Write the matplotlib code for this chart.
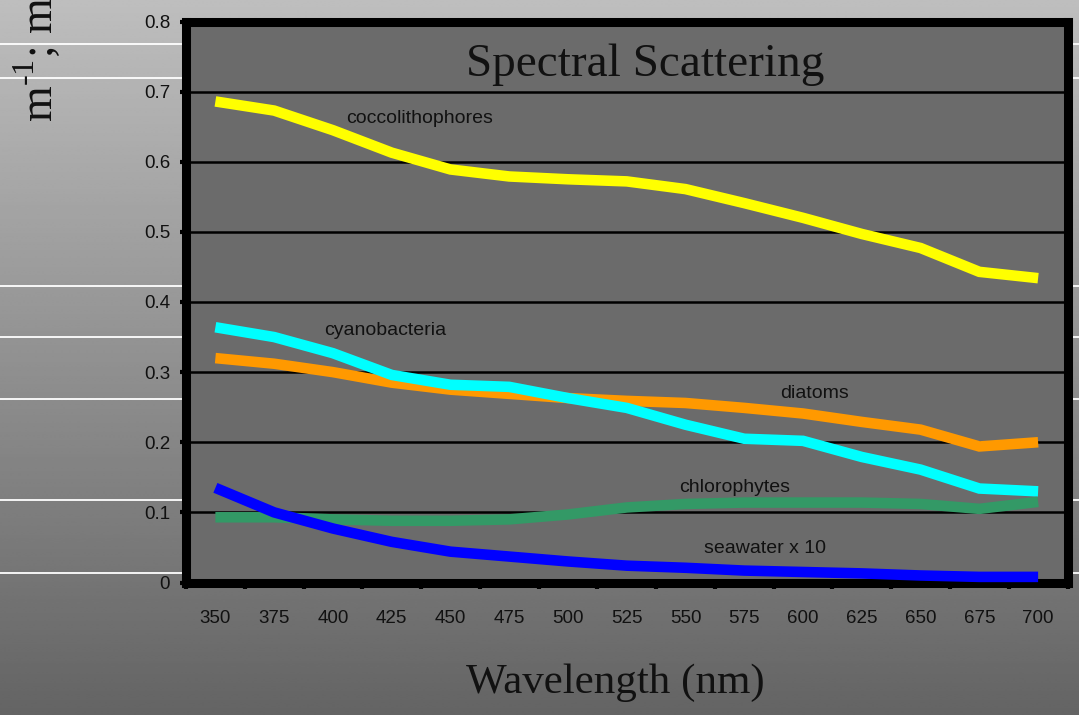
import numpy as np
import matplotlib
matplotlib.use("Agg")
import matplotlib.pyplot as plt
from matplotlib.lines import Line2D

# wavelengths (nm), shown as category labels
wavelengths = ["350", "375", "400", "425", "450", "475", "500", "525",
               "550", "575", "600", "625", "650", "675", "700"]

coccolithophores = [0.686, 0.673, 0.645, 0.613, 0.589, 0.579, 0.575, 0.572,
                    0.561, 0.541, 0.520, 0.497, 0.477, 0.443, 0.434]
diatoms = [0.320, 0.312, 0.300, 0.285, 0.275, 0.269, 0.263, 0.259,
           0.256, 0.249, 0.241, 0.229, 0.218, 0.194, 0.200]
cyanobacteria = [0.364, 0.350, 0.327, 0.296, 0.282, 0.279, 0.263, 0.249,
                 0.225, 0.205, 0.202, 0.179, 0.161, 0.134, 0.130]
chlorophytes = [0.093, 0.093, 0.090, 0.088, 0.088, 0.090, 0.097, 0.107,
                0.112, 0.114, 0.114, 0.114, 0.112, 0.105, 0.115]
seawater_x10 = [0.135, 0.100, 0.077, 0.058, 0.044, 0.037, 0.030, 0.024,
                0.021, 0.017, 0.015, 0.013, 0.010, 0.008, 0.008]

yticks = [0, 0.1, 0.2, 0.3, 0.4, 0.5, 0.6, 0.7, 0.8]
ytick_labels = ["0", "0.1", "0.2", "0.3", "0.4", "0.5", "0.6", "0.7", "0.8"]

W, H = 1079, 715
fig = plt.figure(figsize=(W / 100, H / 100), dpi=100)
plt.rcParams['mathtext.fontset'] = 'custom'
plt.rcParams['mathtext.rm'] = 'Liberation Serif'

# slide background: vertical gray gradient
bg = fig.add_axes([0, 0, 1, 1], zorder=-10)
grad = np.linspace(190, 100, 256)[:, None] / 255.0
bg.imshow(np.repeat(grad, 2, axis=1), cmap='gray', vmin=0, vmax=1,
          aspect='auto', extent=[0, 1, 0, 1], interpolation='bilinear')
bg.set_xlim(0, 1)
bg.set_ylim(0, 1)
bg.axis('off')

# thin white stripes of the slide template
for ypix in [44, 78, 286, 337, 399, 500, 573]:
    bg.add_line(Line2D([0, 1], [1 - ypix / H] * 2, color='white', lw=1.3))

ax = fig.add_axes([186 / W, 1 - 582.5 / H, 881.5 / W, 561 / H])
ax.set_facecolor('#6b6b6b')

x = np.arange(len(wavelengths))
lw = 7.6
kw = dict(lw=lw, solid_capstyle='butt', solid_joinstyle='miter', zorder=3)
ax.plot(x, coccolithophores, color='#ffff00', **kw)
ax.plot(x, diatoms, color='#ff9900', **kw)
ax.plot(x, cyanobacteria, color='#00ffff', **kw)
ax.plot(x, chlorophytes, color='#339966', **kw)
ax.plot(x, seawater_x10, color='#0000ff', **kw)

ax.set_xlim(-0.5, len(wavelengths) - 0.5)
ax.set_ylim(0, 0.8)
ax.set_yticks(yticks)
ax.set_yticklabels(ytick_labels)
ax.set_xticks(x)
ax.set_xticklabels(wavelengths)
ax.set_xticks(np.arange(len(wavelengths) + 1) - 0.5, minor=True)

ax.yaxis.grid(True, color='black', lw=1.8, zorder=1)
ax.set_axisbelow(True)

for s in ax.spines.values():
    s.set_linewidth(6.5)
    s.set_color('black')

ax.tick_params(axis='y', length=4.5, width=3, pad=7, color='black',
               labelsize=13.5, labelcolor='#111111')
ax.tick_params(axis='x', which='major', length=0, pad=20,
               labelsize=13.5, labelcolor='#111111')
ax.tick_params(axis='x', which='minor', length=4.5, width=3, color='black')
for lab in ax.get_xticklabels() + ax.get_yticklabels():
    lab.set_fontfamily('Liberation Sans')

# series labels
lab_kw = dict(family='Liberation Sans', size=14, color='#111111',
              ha='center', va='center', zorder=4)
ax.text(3.48, 0.661, "coccolithophores", **lab_kw)
ax.text(2.89, 0.359, "cyanobacteria", **lab_kw)
ax.text(10.19, 0.270, "diatoms", **lab_kw)
ax.text(8.83, 0.136, "chlorophytes", **lab_kw)
ax.text(9.35, 0.048, "seawater x 10", **lab_kw)

ax.text(0.521, 0.903, "Spectral Scattering", transform=ax.transAxes,
        family='Liberation Serif', size=34, color='#111111',
        ha='center', va='baseline', zorder=4)

fig.text(615 / W, 1 - 693 / H, "Wavelength (nm)", family='Liberation Serif',
         size=31, color='#111111', ha='center', va='baseline')

# y label is cut off at the top edge, as on the original slide
fig.text(53 / W, 1 - 122 / H, r"m$^{\text{-1}}$; m$^{\text{-1}}$ sr$^{\text{-1}}$",
         family='Liberation Serif', size=33, color='#111111',
         rotation=90, rotation_mode='anchor', ha='left', va='baseline')

fig.savefig("out.png", dpi=100)
